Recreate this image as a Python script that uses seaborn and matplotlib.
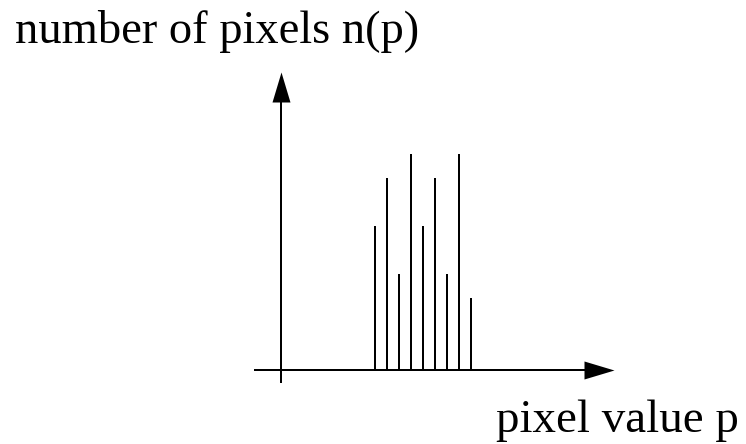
import matplotlib
matplotlib.use("Agg")
import matplotlib.pyplot as plt
import seaborn as sns
import pandas as pd

# Histogram of pixel values: n(p) for each grey level p
pixel_values = [8, 9, 10, 11, 12, 13, 14, 15, 16]
pixel_counts = [6, 8, 4, 9, 6, 8, 4, 9, 3]

y_label = "number of pixels n(p)"
x_label = "pixel value p"

sns.set_style("white")
plt.rcParams["font.family"] = ["Liberation Serif", "DejaVu Serif"]
plt.rcParams["text.color"] = "black"

W, H, DPI = 746, 444, 100
fig = plt.figure(figsize=(W / DPI, H / DPI), dpi=DPI)
ax = fig.add_axes([0, 0, 1, 1])

df = pd.DataFrame({"p": pixel_values, "n": pixel_counts})
# thin bars drawn as spikes (2 px wide, 12 px apart)
sns.barplot(data=df, x="p", y="n", native_scale=True, width=2 / 12,
            color="black", saturation=1, linewidth=0, errorbar=None, ax=ax)

# one unit of p = 12 px, one count = 24 px
x_origin_px, base_px = 278.7, 369.7
ax.set_xlim((0 - x_origin_px) / 12, (W - x_origin_px) / 12)
ax.set_ylim((base_px - H) / 24, base_px / 24)
ax.axis("off")

lw = 2 * 72 / DPI
# axis lines
x_axis_start, x_axis_tip = -2.06, 27.97
y_axis_x, y_axis_bottom, y_axis_tip = 0.19, -0.57, 12.39
ax.plot([x_axis_start, x_axis_tip - 1.0], [0, 0], color="black", lw=lw,
        solid_capstyle="butt")
ax.plot([y_axis_x, y_axis_x], [y_axis_bottom, y_axis_tip - 0.5], color="black",
        lw=lw, solid_capstyle="butt")

# arrowheads: 30 px long, 18 px wide
head = [(-9, -15), (9, -15), (0, 15)]
head_right = [(-15, -9), (-15, 9), (15, 0)]
ms = 30 * 72 / DPI
ax.plot([x_axis_tip - 15 / 12], [0], marker=head_right, ms=ms,
        color="black", markeredgewidth=0)
ax.plot([y_axis_x], [y_axis_tip - 15 / 24], marker=head, ms=ms,
        color="black", markeredgewidth=0)

fig.text(15 / W, 1 - 42.7 / H, y_label, fontsize=46.5 * 72 / DPI,
         va="baseline", ha="left", color="black")
fig.text(496 / W, 1 - 431.7 / H, x_label, fontsize=47 * 72 / DPI,
         va="baseline", ha="left", color="black")

fig.savefig("out.png", dpi=DPI, facecolor="white")
